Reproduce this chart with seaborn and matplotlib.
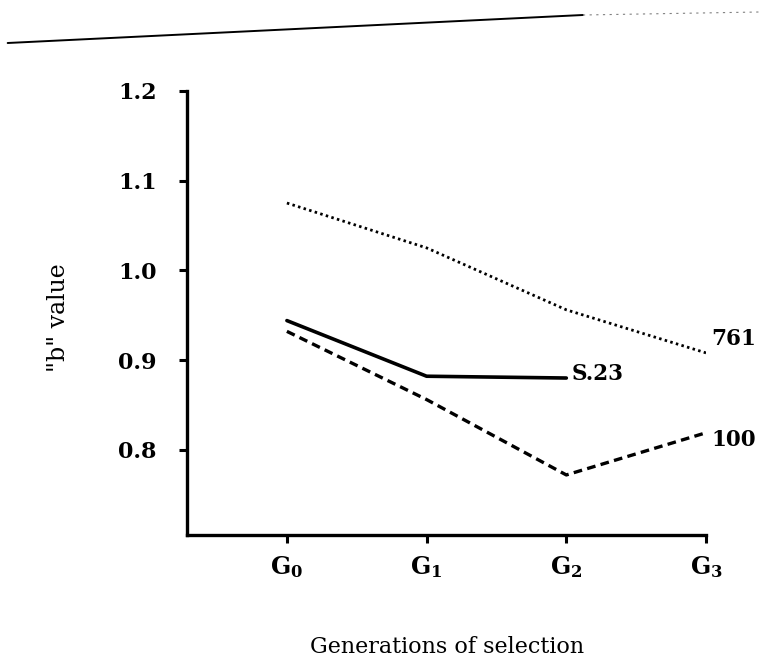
import numpy as np
import pandas as pd
import matplotlib
matplotlib.use("Agg")
import matplotlib.pyplot as plt
import seaborn as sns
from matplotlib.lines import Line2D

generations = ["G$_0$", "G$_1$", "G$_2$", "G$_3$"]
gen_pos = [0, 1, 2, 3]

b_761 = [1.075, 1.025, 0.956, 0.908]
b_s23 = [0.944, 0.882, 0.880]
b_100 = [0.932, 0.856, 0.772, 0.819]

yticks = [0.8, 0.9, 1.0, 1.1, 1.2]

sns.set_theme(style="ticks")
plt.rcParams["font.family"] = ["DejaVu Serif"]
plt.rcParams["mathtext.fontset"] = "dejavuserif"
plt.rcParams["mathtext.default"] = "bf"
for key in ["text.color", "axes.labelcolor", "xtick.color", "ytick.color"]:
    plt.rcParams[key] = "black"

fig = plt.figure(figsize=(7.67, 6.68), dpi=100)
ax = fig.add_axes([0.244, 0.199, 0.6765, 0.665])

# name, values, line style, label nudge (in b units)
series = [
    ("761", b_761, dict(linestyle=(0, (0.9, 1.2)), lw=2.0), 0.015),
    ("S.23", b_s23, dict(linestyle="-", lw=2.6), 0.005),
    ("100", b_100, dict(linestyle=(0, (2.6, 1.6)), lw=2.4), -0.008),
]

for name, vals, style, nudge in series:
    df = pd.DataFrame({"gen": gen_pos[:len(vals)], "b": vals})
    sns.lineplot(data=df, x="gen", y="b", ax=ax, color="black", **style)
    ax.text(df["gen"].iloc[-1] + 0.04, df["b"].iloc[-1] + nudge, name,
            fontsize=15.5, fontweight="bold", va="center", ha="left")

ax.set_xlim(-0.714, 3.0)
ax.set_ylim(0.705, 1.2)
ax.set_xticks(gen_pos)
ax.set_xticklabels(generations, fontsize=17, fontweight="bold")
ax.set_yticks(yticks)
ax.set_yticklabels([f"{v:.1f}" for v in yticks], fontsize=16, fontweight="bold")

for s in ["top", "right"]:
    ax.spines[s].set_visible(False)
for s in ["left", "bottom"]:
    ax.spines[s].set_linewidth(2.4)
    ax.spines[s].set_color("black")
ax.tick_params(axis="both", direction="out", length=6, width=2.2, colors="black")
ax.tick_params(axis="y", pad=16)
ax.tick_params(axis="x", pad=8)

ax.set_xlabel("Generations of selection", fontsize=16, labelpad=40)
ax.set_ylabel('"b" value', fontsize=17)
ax.yaxis.set_label_coords(-0.225, 0.49)

# page rule at the top of the scan
fig.add_artist(Line2D([0.01, 0.76], [1 - 43 / 668, 1 - 15 / 668], color="black", lw=1.4))
fig.add_artist(Line2D([0.76, 0.99], [1 - 15 / 668, 1 - 12 / 668], color="grey",
                      lw=0.8, linestyle=(0, (2, 4))))

fig.savefig("out.png", dpi=100)
